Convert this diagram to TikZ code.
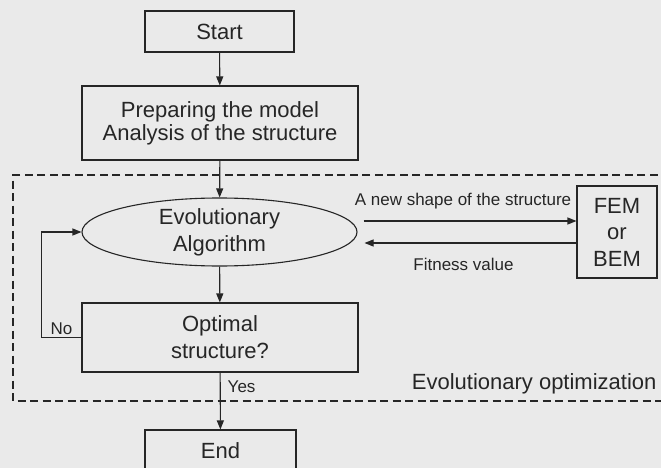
\documentclass[tikz,border=0pt]{standalone}
\usepackage{fontspec}
\setmainfont{Liberation Sans}
\usetikzlibrary{arrows.meta,shapes}
\definecolor{paper}{HTML}{EAEAEA}
\definecolor{ink}{HTML}{262626}
\begin{document}
\begin{tikzpicture}[x=1pt, y=-1pt, ink, line width=1.1pt,
	box/.style={rectangle, draw, inner sep=0pt, align=center, font=\fontsize{22}{27}\selectfont},
	flow/.style={-{Triangle[length=9pt,width=7pt]}},
	tag/.style={inner sep=0pt, font=\fontsize{17}{19}\selectfont}]
		\fill[paper] (0,0) rectangle (661,468);
		\useasboundingbox (0,0) rectangle (661,468);

		\node[box, minimum width=149pt, minimum height=41pt] (start) at (219.5,31.5) {Start};
		\node[box, minimum width=276pt, minimum height=74pt, font=\fontsize{22}{23}\selectfont] (prep) at (220,123) {Preparing the model\\Analysis of the structure};
		\node[box, ellipse, minimum width=275pt, minimum height=68pt] (evo) at (219.5,232) {Evolutionary\\Algorithm};
		\node[box, minimum width=276pt, minimum height=69pt] (optim) at (220,337.5) {Optimal\\structure?};
		\node[box, minimum width=151pt, minimum height=41pt] (finish) at (220.5,450.5) {End};
		\node[box, minimum width=80pt, minimum height=92pt, font=\fontsize{22}{26.5}\selectfont] (fem) at (617,232) {FEM\\or\\BEM};

		\draw[dashed, line width=2pt, dash pattern=on 8pt off 4.5pt] (670,175) -| (13,401) -- (670,401);
		\node[box, draw=none, anchor=east] (evopt) at (657,384) {Evolutionary optimization};

		\draw[flow] (start) -- (prep);
		\draw[flow] (prep) -- (evo);
		\draw[flow] (evo) -- (optim);
		\draw[flow] (optim) -- (finish) node[tag, pos=0.14, anchor=north west, xshift=7pt] {Yes};
		\draw[flow] (optim.west) -- ++(-40,0) node[tag, midway, anchor=south, yshift=2pt] {No} |- (evo.west);

		\draw[flow] ([shift={(6,-11)}]evo.east) -- ([shift={(0,-11)}]fem.west) node[tag, midway, anchor=south, yshift=11pt, xshift=-7pt] {A new shape of the structure};
		\draw[flow] ([shift={(0,11)}]fem.west) -- ([shift={(7,11)}]evo.east) node[tag, midway, anchor=north, yshift=-15pt, xshift=-7pt] {Fitness value};
\end{tikzpicture}
\end{document}
